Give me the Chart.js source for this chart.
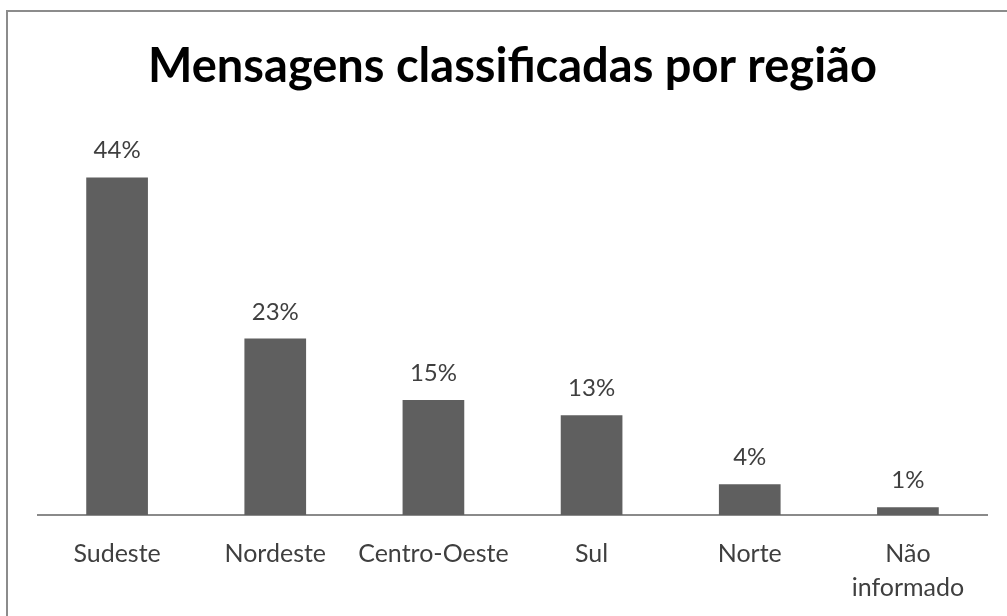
<!DOCTYPE html>
<html>
<head>
<meta charset="utf-8">
<script src="https://cdn.jsdelivr.net/npm/chart.js@4/dist/chart.umd.min.js"></script>
<style>
    html, body { margin: 0; padding: 0; background: #fff; }
    #wrap { position: relative; width: 1007px; height: 616px; overflow: hidden; }
    #frame { position: absolute; left: 6px; top: 10px; width: 1010px; height: 620px; border: 2px solid #8c8c8c; box-sizing: border-box; }
</style>
</head>
<body>
<div id="wrap">
    <div id="frame"></div>
    <canvas id="chart" width="1007" height="616"></canvas>
</div>
<script>
// Data
const regions = ['Sudeste', 'Nordeste', 'Centro-Oeste', 'Sul', 'Norte', ['Não', 'informado']];
const shares = [44, 23, 15, 13, 4, 1];
const shareLabels = ['44%', '23%', '15%', '13%', '4%', '1%'];

// Draws the percentage above each bar
const barLabels = {
    id: 'barLabels',
    afterDatasetsDraw(chart) {
        const ctx = chart.ctx;
        const meta = chart.getDatasetMeta(0);
        ctx.save();
        ctx.font = '24px Lato';
        ctx.fillStyle = '#3f3f3f';
        ctx.textAlign = 'center';
        ctx.textBaseline = 'alphabetic';
        meta.data.forEach((bar, i) => {
            ctx.fillText(shareLabels[i], bar.x, bar.y - 19);
        });
        ctx.restore();
    }
};

const ctx = document.getElementById('chart').getContext('2d');
new Chart(ctx, {
    type: 'bar',
    data: {
        labels: regions,
        datasets: [{
            data: shares,
            backgroundColor: '#5f5f5f',
            categoryPercentage: 1,
            barPercentage: 0.39
        }]
    },
    options: {
        responsive: false,
        animation: false,
        layout: {
            padding: { left: 38, right: 20, top: 0, bottom: 0 }
        },
        plugins: {
            legend: { display: false },
            tooltip: { enabled: false },
            title: {
                display: true,
                text: 'Mensagens classificadas por região',
                color: '#000',
                font: { family: 'Lato', size: 47, weight: 'bold', lineHeight: 1.2 },
                padding: { top: 39, bottom: 36 }
            }
        },
        scales: {
            x: {
                grid: { drawOnChartArea: false, drawTicks: false },
                border: { display: true, color: '#8a8a8a', width: 2 },
                ticks: {
                    color: '#3f3f3f',
                    font: { family: 'Lato', size: 25, lineHeight: 1.36 },
                    padding: 22,
                    maxRotation: 0,
                    autoSkip: false
                },
                // keep the axis band the same height as in the reference
                afterFit(scale) {
                    scale.height = 101;
                }
            },
            y: {
                display: false,
                min: 0,
                max: 50
            }
        }
    },
    plugins: [barLabels]
});
</script>
</body>
</html>
